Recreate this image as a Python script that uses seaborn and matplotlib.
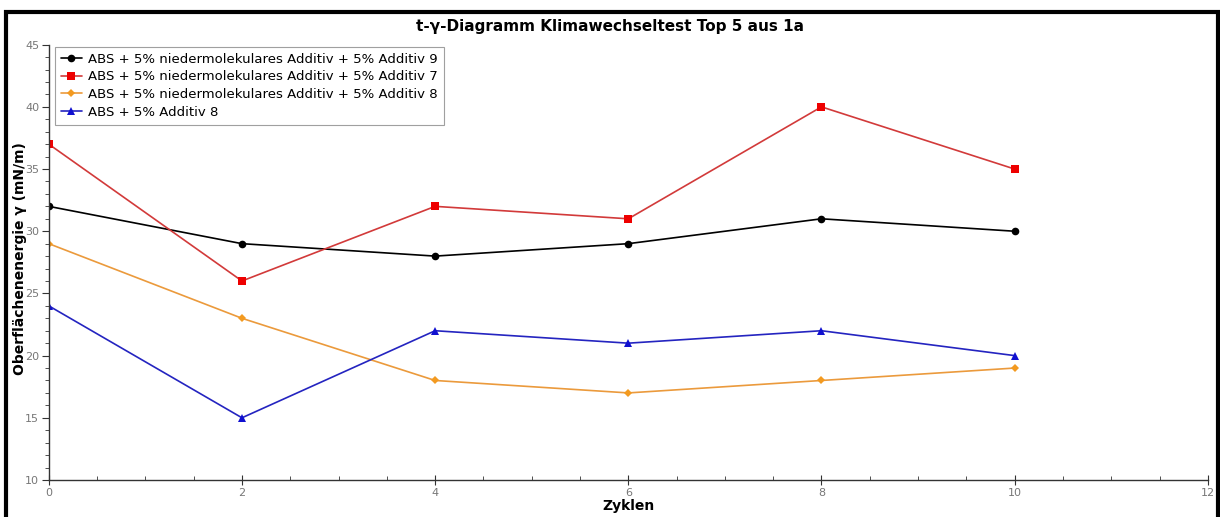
import numpy as np
import matplotlib.pyplot as plt
import pandas as pd
import seaborn as sns
from matplotlib.patches import Rectangle
from matplotlib.ticker import MultipleLocator

zyklen = [0, 2, 4, 6, 8, 10]
serien = [
    "ABS + 5% niedermolekulares Additiv + 5% Additiv 9",
    "ABS + 5% niedermolekulares Additiv + 5% Additiv 7",
    "ABS + 5% niedermolekulares Additiv + 5% Additiv 8",
    "ABS + 5% Additiv 8",
]
additiv9 = [32, 29, 28, 29, 31, 30]
additiv7 = [37, 26, 32, 31, 40, 35]
additiv8 = [29, 23, 18, 17, 18, 19]
nur_additiv8 = [24, 15, 22, 21, 22, 20]

farben = ["#000000", "#d23a3a", "#eb9a3c", "#2424c0"]
marker_farben = ["#000000", "#ee0000", "#f39a20", "#1010d0"]
marker = ["o", "s", "D", "^"]

df = pd.DataFrame({
    "Zyklen": zyklen * 4,
    "gamma": additiv9 + additiv7 + additiv8 + nur_additiv8,
    "Serie": [s for s in serien for _ in zyklen],
})

sns.set_style("ticks")
plt.rcParams['font.family'] = ['DejaVu Sans']
plt.rcParams['text.color'] = 'black'
plt.rcParams['axes.labelcolor'] = 'black'

fig = plt.figure(figsize=(12.2, 5.17), dpi=100)
ax = fig.add_axes([0.040, 0.0716, 0.950, 0.842])

sns.lineplot(data=df, x="Zyklen", y="gamma", hue="Serie", style="Serie",
             palette=dict(zip(serien, farben)),
             markers=dict(zip(serien, marker)),
             dashes=False, markersize=5.5, markeredgewidth=0,
             linewidth=1.2, ax=ax)

# Markerfarben etwas kräftiger als die Linien, Diamanten kleiner
mfarbe = dict(zip(farben, marker_farben))
for line in ax.lines:
    c = line.get_color()
    if isinstance(c, str) and c in mfarbe:
        line.set_markerfacecolor(mfarbe[c])
    if line.get_marker() == "D":
        line.set_markersize(4.2)

ax.set_xlim(0, 12)
ax.set_ylim(10, 45)
ax.xaxis.set_major_locator(MultipleLocator(2))
ax.xaxis.set_minor_locator(MultipleLocator(0.5))
ax.yaxis.set_major_locator(MultipleLocator(5))
ax.yaxis.set_minor_locator(MultipleLocator(1))
ax.tick_params(axis="x", which="major", bottom=True, direction="inout", length=7, width=0.8,
               labelsize=8, labelcolor="#777777", color="#333333", pad=2)
ax.tick_params(axis="x", which="minor", bottom=True, direction="in", length=3, width=0.6,
               color="#333333")
ax.tick_params(axis="y", which="major", left=True, direction="out", length=5, width=0.8,
               labelsize=8, labelcolor="#777777", color="#333333", pad=2)
ax.tick_params(axis="y", which="minor", left=True, direction="out", length=3, width=0.6,
               color="#333333")

ax.spines["top"].set_visible(False)
ax.spines["right"].set_visible(False)
for s in ["left", "bottom"]:
    ax.spines[s].set_color("#333333")
    ax.spines[s].set_linewidth(1.0)

ax.set_xlabel("Zyklen", fontsize=10, fontweight="bold", labelpad=1)
ax.set_ylabel("")
fig.text(20 / 1220, 0.50, "Oberflächenenergie γ (mN/m)", rotation=90,
         ha="center", va="center", fontsize=10, fontweight="bold")
fig.text(0.5, 0.948, "t-γ-Diagramm Klimawechseltest Top 5 aus 1a",
         ha="center", va="center", fontsize=11, fontweight="bold")

leg = ax.legend(loc="upper left", bbox_to_anchor=(0.005, 0.995), fontsize=9.5,
                frameon=True, fancybox=False, edgecolor="#888888",
                handlelength=1.6, handletextpad=0.5, labelspacing=0.35,
                borderpad=0.45, borderaxespad=0)
leg.get_frame().set_linewidth(0.8)

fig.add_artist(Rectangle((0.005, -0.05), 0.993, 1.027, transform=fig.transFigure,
                         fill=False, edgecolor="black", linewidth=3, clip_on=False))

fig.savefig("out.png", dpi=100, facecolor="white")
